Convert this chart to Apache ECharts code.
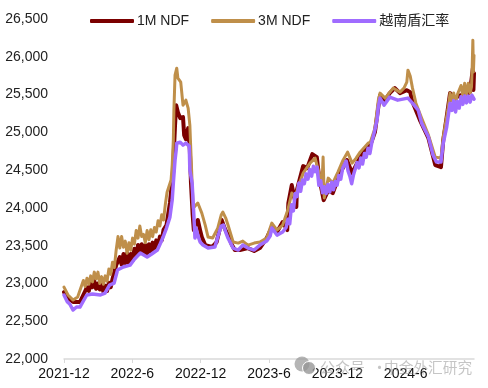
<!DOCTYPE html>
<html>
<head>
<meta charset="utf-8">
<style>html,body{margin:0;padding:0;background:#fff}#c{width:488px;height:388px}</style>
<script src="https://cdn.jsdelivr.net/npm/echarts@6/dist/echarts.min.js"></script>
</head>
<body>
<div id="c"></div>
<script>
// x values are months counted from 2021-12
var tickLabels = ['2021-12','2022-6','2022-12','2023-6','2023-12','2024-6'];
var tickMonths = [0,6,12,18,24,30];
var visibleTicks = [0,6,12,18];

var m1Months = [0,.35,.8,1.4,1.86,2.02,2.18,2.34,2.5,2.66,2.82,2.98,3.14,3.3,3.46,3.62,3.78,3.94,4.1,4.26,4.42,4.58,4.74,4.9,5.06,5.22,5.38,5.54,5.7,5.86,6.02,6.18,6.34,6.5,6.66,6.82,6.98,7.14,7.3,7.46,7.62,7.78,7.94,8.1,8.26,8.42,8.58,8.74,9,9.3,9.5,9.6,9.65,9.75,9.85,10,10.2,10.45,10.55,10.7,10.9,11.05,11.15,11.3,11.4,11.5,11.75,11.95,12.1,12.4,13,13.4,13.7,13.85,14.1,14.4,14.75,15,15.45,16.15,16.7,17.2,17.8,18.25,18.7,19.2,19.6,19.7,20,20.4,20.45,21,21.35,21.8,22.2,22.4,22.8,23.2,23.6,24.25,24.85,25.3,26,26.6,26.9,27.3,27.6,27.75,28.2,28.6,29.05,29.5,30.1,30.4,30.6,31.25,32,32.6,33.1,33.3,33.6,33.9,34.3,34.8,35.2,35.65,35.8,35.9,35.95,36];
var m1Values = [22886,22807,22754,22754,22900,22950,22900,23010,22950,23030,22930,23000,22920,22990,22890,22970,22900,23010,22950,23060,23040,23240,23230,23350,23250,23390,23270,23400,23270,23390,23300,23460,23360,23510,23400,23520,23390,23510,23390,23520,23420,23540,23440,23570,23490,23620,23570,23710,23773,24064,24368,24500,24765,25096,25360,25267,25188,25201,24963,24910,25056,24765,24328,23905,23706,23773,23839,23706,23614,23508,23482,23548,23733,23839,23733,23640,23508,23442,23442,23468,23429,23468,23601,23746,23680,23812,23706,24064,24302,24011,24236,24553,24527,24712,24672,24408,24103,24236,24196,24460,24632,24460,24672,24791,24831,25003,25334,25492,25426,25519,25585,25519,25558,25532,25400,25162,24923,24566,24540,24897,25201,25519,25453,25492,25492,25532,25558,25849,25560,25783];

var m3Months = [0,.35,.8,1.2,1.7,1.86,2.02,2.18,2.34,2.5,2.66,2.82,2.98,3.14,3.3,3.46,3.62,3.78,3.94,4.1,4.26,4.42,4.58,4.74,4.9,5.06,5.22,5.38,5.54,5.7,5.86,6.02,6.18,6.34,6.5,6.66,6.82,6.98,7.14,7.3,7.46,7.62,7.78,7.94,8.1,8.26,8.42,8.58,8.74,8.9,9.05,9.4,9.5,9.6,9.65,9.75,9.9,10,10.25,10.45,10.6,10.7,10.9,11.05,11.25,11.35,11.5,11.75,12.1,12.4,12.65,13.05,13.5,13.8,13.95,14.2,14.4,14.85,15.3,15.7,16.15,16.7,17.2,17.8,18.25,18.7,19.2,19.65,20,20.3,20.55,21,21.6,22.05,22.4,22.65,22.75,22.85,23.2,23.6,24.05,24.5,24.9,25.3,25.65,26,26.7,26.9,27.3,27.6,27.75,28.2,28.9,29.5,29.85,30.1,30.2,30.4,30.6,30.9,31.4,32,32.6,33.1,33.3,33.7,33.9,34.06,34.22,34.38,34.54,34.7,34.86,35.02,35.18,35.34,35.5,35.66,35.78,35.84,35.9,35.95,36];
var m3Values = [22952,22847,22780,22820,23040,22960,23070,22990,23100,23020,23150,23060,23150,23000,23090,22990,23100,23030,23190,23120,23280,23210,23440,23620,23470,23620,23480,23560,23400,23540,23440,23600,23520,23700,23600,23760,23620,23650,23540,23700,23580,23710,23620,23740,23680,23830,23760,23910,23840,24050,24209,24368,24566,24897,25294,25757,25849,25717,25664,25360,25386,25426,25320,25096,24328,23997,24011,24064,23931,23773,23614,23601,23733,23905,23945,23865,23773,23548,23534,23561,23508,23534,23548,23601,23799,23706,23773,23971,24196,24143,24275,24460,24593,24659,24460,24302,24672,24130,24394,24328,24474,24632,24738,24593,24659,24738,24857,24870,25056,25426,25519,25453,25585,25532,25585,25664,25823,25744,25585,25386,25188,24963,24672,24659,24937,25294,25519,25420,25520,25380,25500,25480,25620,25480,25650,25500,25650,25520,25600,25862,26220,25800,26021];

var vndMonths = [0,.3,.5,.8,1.1,1.4,1.8,2,2.5,3.2,3.6,4,4.4,4.7,5.2,5.8,6.2,6.7,7.3,7.7,8.2,8.4,8.7,9,9.3,9.5,9.6,9.75,9.85,9.9,10.2,10.45,10.7,11,11.05,11.25,11.4,11.5,11.6,11.7,11.75,11.95,12.2,12.65,13.25,13.5,13.8,14,14.2,14.4,14.85,15.3,15.7,16.15,16.7,17.2,17.8,18.1,18.25,18.7,19.2,19.5,19.66,19.82,19.98,20.14,20.3,20.46,20.62,20.78,20.94,21.1,21.26,21.42,21.58,21.74,21.9,22.06,22.22,22.38,22.54,22.7,22.86,23.02,23.18,23.34,23.5,23.66,23.82,23.98,24.14,24.3,24.46,24.62,24.78,24.94,25.1,25.26,25.42,25.58,25.74,25.9,26.06,26.22,26.38,26.54,26.7,26.86,27.02,27.18,27.34,27.5,27.6,27.75,28.1,28.6,29.3,30.2,30.6,31.1,31.4,32,32.4,32.7,33.1,33.3,33.6,33.9,34.06,34.22,34.38,34.54,34.7,34.86,35.02,35.18,35.34,35.5,35.66,35.82,36];
var vndValues = [22847,22754,22728,22648,22688,22688,22794,22847,22860,22847,22873,22979,23005,23177,23217,23243,23323,23402,23349,23389,23442,23508,23614,23733,23878,24103,24328,24632,24765,24857,24870,24831,24857,24818,24500,24328,23905,23601,23733,23746,23640,23548,23508,23468,23482,23614,23759,23773,23680,23601,23468,23442,23508,23468,23442,23508,23561,23627,23733,23640,23680,23740,23850,23790,24040,23960,24190,24150,24330,24220,24370,24320,24450,24380,24510,24420,24550,24480,24540,24300,24360,24200,24280,24190,24310,24210,24340,24240,24350,24300,24430,24380,24520,24500,24620,24490,24420,24320,24440,24430,24600,24530,24660,24580,24720,24670,24790,24720,24860,24840,25060,25180,25334,25453,25360,25466,25426,25453,25386,25294,25122,24937,24699,24606,24606,24857,25069,25386,25290,25420,25270,25410,25320,25470,25370,25480,25390,25480,25400,25490,25440];

function zip(xs, ys) { return xs.map(function (x, i) { return [x, ys[i]]; }); }

var chart = echarts.init(document.getElementById('c'), null, { renderer: 'canvas' });
var font = '"Liberation Sans", Arial, sans-serif';
chart.setOption({
  animation: false,
  backgroundColor: '#fff',
  grid: { left: 64, right: 14, top: 19, bottom: 29 },
  legend: {
    left: 85, top: 9, icon: 'roundRect', itemWidth: 44, itemHeight: 4, itemGap: 22,
    textStyle: { fontFamily: font + ', "Noto Sans CJK SC"', fontSize: 14, color: '#222', padding: [0, 0, 0, -2] },
    data: ['1M NDF', '3M NDF', '越南盾汇率']
  },
  xAxis: {
    type: 'value', min: 0, max: 36, interval: 6, splitLine: { show: false },
    axisLine: { show: true, lineStyle: { color: '#d9d9d9', width: 1.5 } },
    axisTick: { show: true, customValues: visibleTicks, length: 4, lineStyle: { color: '#d9d9d9', width: 1 } },
    axisLabel: {
      customValues: tickMonths, margin: 8, fontFamily: font, fontSize: 14, color: '#111',
      showMinLabel: true, showMaxLabel: true, hideOverlap: false,
      formatter: function (v) { return tickLabels[tickMonths.indexOf(v)] || ''; }
    }
  },
  yAxis: {
    type: 'value', min: 22000, max: 26500, interval: 500, splitLine: { show: false },
    axisLine: { show: false }, axisTick: { show: false },
    axisLabel: {
      margin: 16, fontFamily: font, fontSize: 14, color: '#222',
      formatter: function (v) { return String(v).replace(/(\d)(\d{3})$/, '$1,$2'); }
    }
  },
  series: [
    { name: '1M NDF', type: 'line', showSymbol: false, symbol: 'none', data: zip(m1Months, m1Values), itemStyle: { color: '#7b0000' }, lineStyle: { color: '#7b0000', width: 4, join: 'round', cap: 'round' } },
    { name: '3M NDF', type: 'line', showSymbol: false, symbol: 'none', data: zip(m3Months, m3Values), itemStyle: { color: '#bf8f4a' }, lineStyle: { color: '#bf8f4a', width: 3, join: 'round', cap: 'round' } },
    { name: '越南盾汇率', type: 'line', showSymbol: false, symbol: 'none', data: zip(vndMonths, vndValues), itemStyle: { color: '#a06cff' }, lineStyle: { color: '#a06cff', width: 3.5, join: 'round', cap: 'round' } }
  ],
  graphic: [
    { type: 'circle', shape: { cx: 302, cy: 364, r: 7.5 }, style: { fill: 'rgba(150,150,150,0.7)' }, z: 100 },
    { type: 'circle', shape: { cx: 309, cy: 368, r: 6.5 }, style: { fill: 'rgba(150,150,150,0.8)', stroke: '#fff', lineWidth: 1 }, z: 101 },
    { type: 'text', x: 320, y: 360, z: 100, style: { text: '公众号', fontSize: 15, fontFamily: '"Noto Sans CJK SC"', fill: 'rgba(140,140,140,0.5)' } },
    { type: 'text', x: 372, y: 360, z: 100, style: { text: '·', fontSize: 15, fontFamily: '"Noto Sans CJK SC"', fill: 'rgba(140,140,140,0.5)' } },
    { type: 'text', x: 384, y: 360, z: 100, style: { text: '中金外汇研究', fontSize: 14.7, fontFamily: '"Noto Sans CJK SC"', fill: 'rgba(140,140,140,0.5)' } }
  ]
});
</script>
</body>
</html>
